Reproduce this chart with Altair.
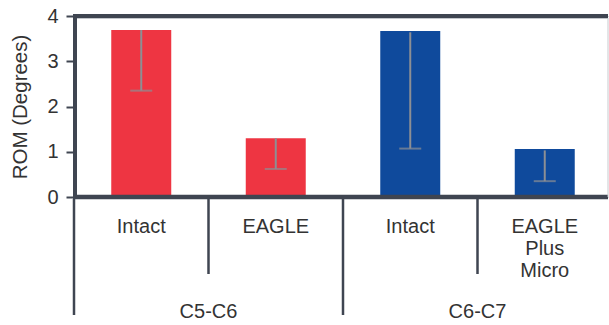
import altair as alt
import pandas as pd

# ---- data ----
levels = ["C5-C6", "C5-C6", "C6-C7", "C6-C7"]
conditions = ["Intact", "EAGLE", "Intact", "EAGLE\nPlus\nMicro"]
rom = [3.69, 1.30, 3.67, 1.06]
err_low = [2.35, 0.62, 1.07, 0.35]
err_high = [3.69, 1.30, 3.64, 1.03]
bar_colors = ["#EE3542", "#EE3542", "#0F4A9C", "#0F4A9C"]
y_ticks = [0, 1, 2, 3, 4]

keys = [f"{l}|{c}" for l, c in zip(levels, conditions)]
group_start = [i == 0 or levels[i] != levels[i - 1] for i in range(len(levels))]

df = pd.DataFrame({
    "key": keys,
    "level": levels,
    "cond": conditions,
    "rom": rom,
    "low": err_low,
    "high": err_high,
    "color": bar_colors,
    "start": group_start,
})
groups_df = df[df["start"]].copy()

DARK = "#3F4551"
TEXT = "#333333"
ERR = "#8C8F94"
FONT = "Liberation Sans"
FS = 20

W, H = 535, 181
xscale = alt.Scale(domain=keys, range=[0, 538], paddingInner=0, paddingOuter=0)
yscale = alt.Scale(domain=[0, 4], nice=False)

X = alt.X("key:N", scale=xscale, axis=None)

base = alt.Chart(df)

bars = base.mark_bar(width=alt.RelativeBandSize(0.446)).encode(
    x=X,
    y=alt.Y("rom:Q", scale=yscale,
            axis=alt.Axis(values=y_ticks, domain=False, grid=False,
                          tickColor=DARK, tickSize=8, tickWidth=2,
                          labelFontSize=FS, labelColor=TEXT, labelPadding=8,
                          labelFont=FONT, title="ROM (Degrees)",
                          titleFont=FONT, titleFontSize=20.5,
                          titleFontWeight="normal", titleColor=TEXT,
                          titlePadding=16)),
    color=alt.Color("color:N", scale=None),
)

err = base.mark_rule(color=ERR, strokeWidth=2).encode(
    x=X, y=alt.Y("low:Q", scale=yscale), y2="high:Q"
)
cap = base.mark_tick(color=ERR, thickness=2, size=22, orient="horizontal").encode(
    x=X, y=alt.Y("low:Q", scale=yscale)
)

one = alt.Chart(pd.DataFrame({"k": [0]}))
top_border = one.mark_rule(color=DARK, strokeWidth=4).encode(
    x=alt.value(-1), x2=alt.value(534), y=alt.value(0))
top_shadow = one.mark_rule(color="#C3C7CC", strokeWidth=1).encode(
    x=alt.value(3), x2=alt.value(534), y=alt.value(2.5))
bottom_border = one.mark_rule(color=DARK, strokeWidth=4.5).encode(
    x=alt.value(-1), x2=alt.value(534), y=alt.value(H))
left_border = one.mark_rule(color=DARK, strokeWidth=4).encode(
    x=alt.value(1), y=alt.value(-2), y2=alt.value(H + 2))
right_edge = one.mark_rule(color="#C8CBCF", strokeWidth=1).encode(
    x=alt.value(534), y=alt.value(2), y2=alt.value(H))

Xstart = alt.X("key:N", scale=xscale, axis=None, bandPosition=0)
long_div = base.transform_filter("datum.start").mark_rule(color=DARK, strokeWidth=2.5).encode(
    x=Xstart, y=alt.value(H + 2), y2=alt.value(299))
short_div = base.transform_filter("!datum.start").mark_rule(color=DARK, strokeWidth=2.5).encode(
    x=Xstart, y=alt.value(H + 2), y2=alt.value(258))

cond_text = base.mark_text(font=FONT, fontSize=FS, color=TEXT, baseline="top",
                           lineBreak="\n", lineHeight=22, align="center").encode(
    x=X, y=alt.value(201), text="cond:N")

group_text = alt.Chart(groups_df).mark_text(font=FONT, fontSize=FS, color=TEXT,
                                            baseline="middle", align="center").encode(
    x=alt.X("key:N", scale=xscale, axis=None, bandPosition=1),
    y=alt.value(296), text="level:N")

chart = alt.layer(
    bars, err, cap, top_border, top_shadow, bottom_border, left_border, right_edge,
    long_div, short_div, cond_text, group_text,
).properties(
    width=W, height=H,
    autosize=alt.AutoSizeParams(type="none"),
    padding={"left": 74, "top": 16, "right": 0, "bottom": 128},
).configure_view(stroke=None).configure(background="white")

chart.save("out.html", embed_options={"renderer": "svg", "actions": False})
